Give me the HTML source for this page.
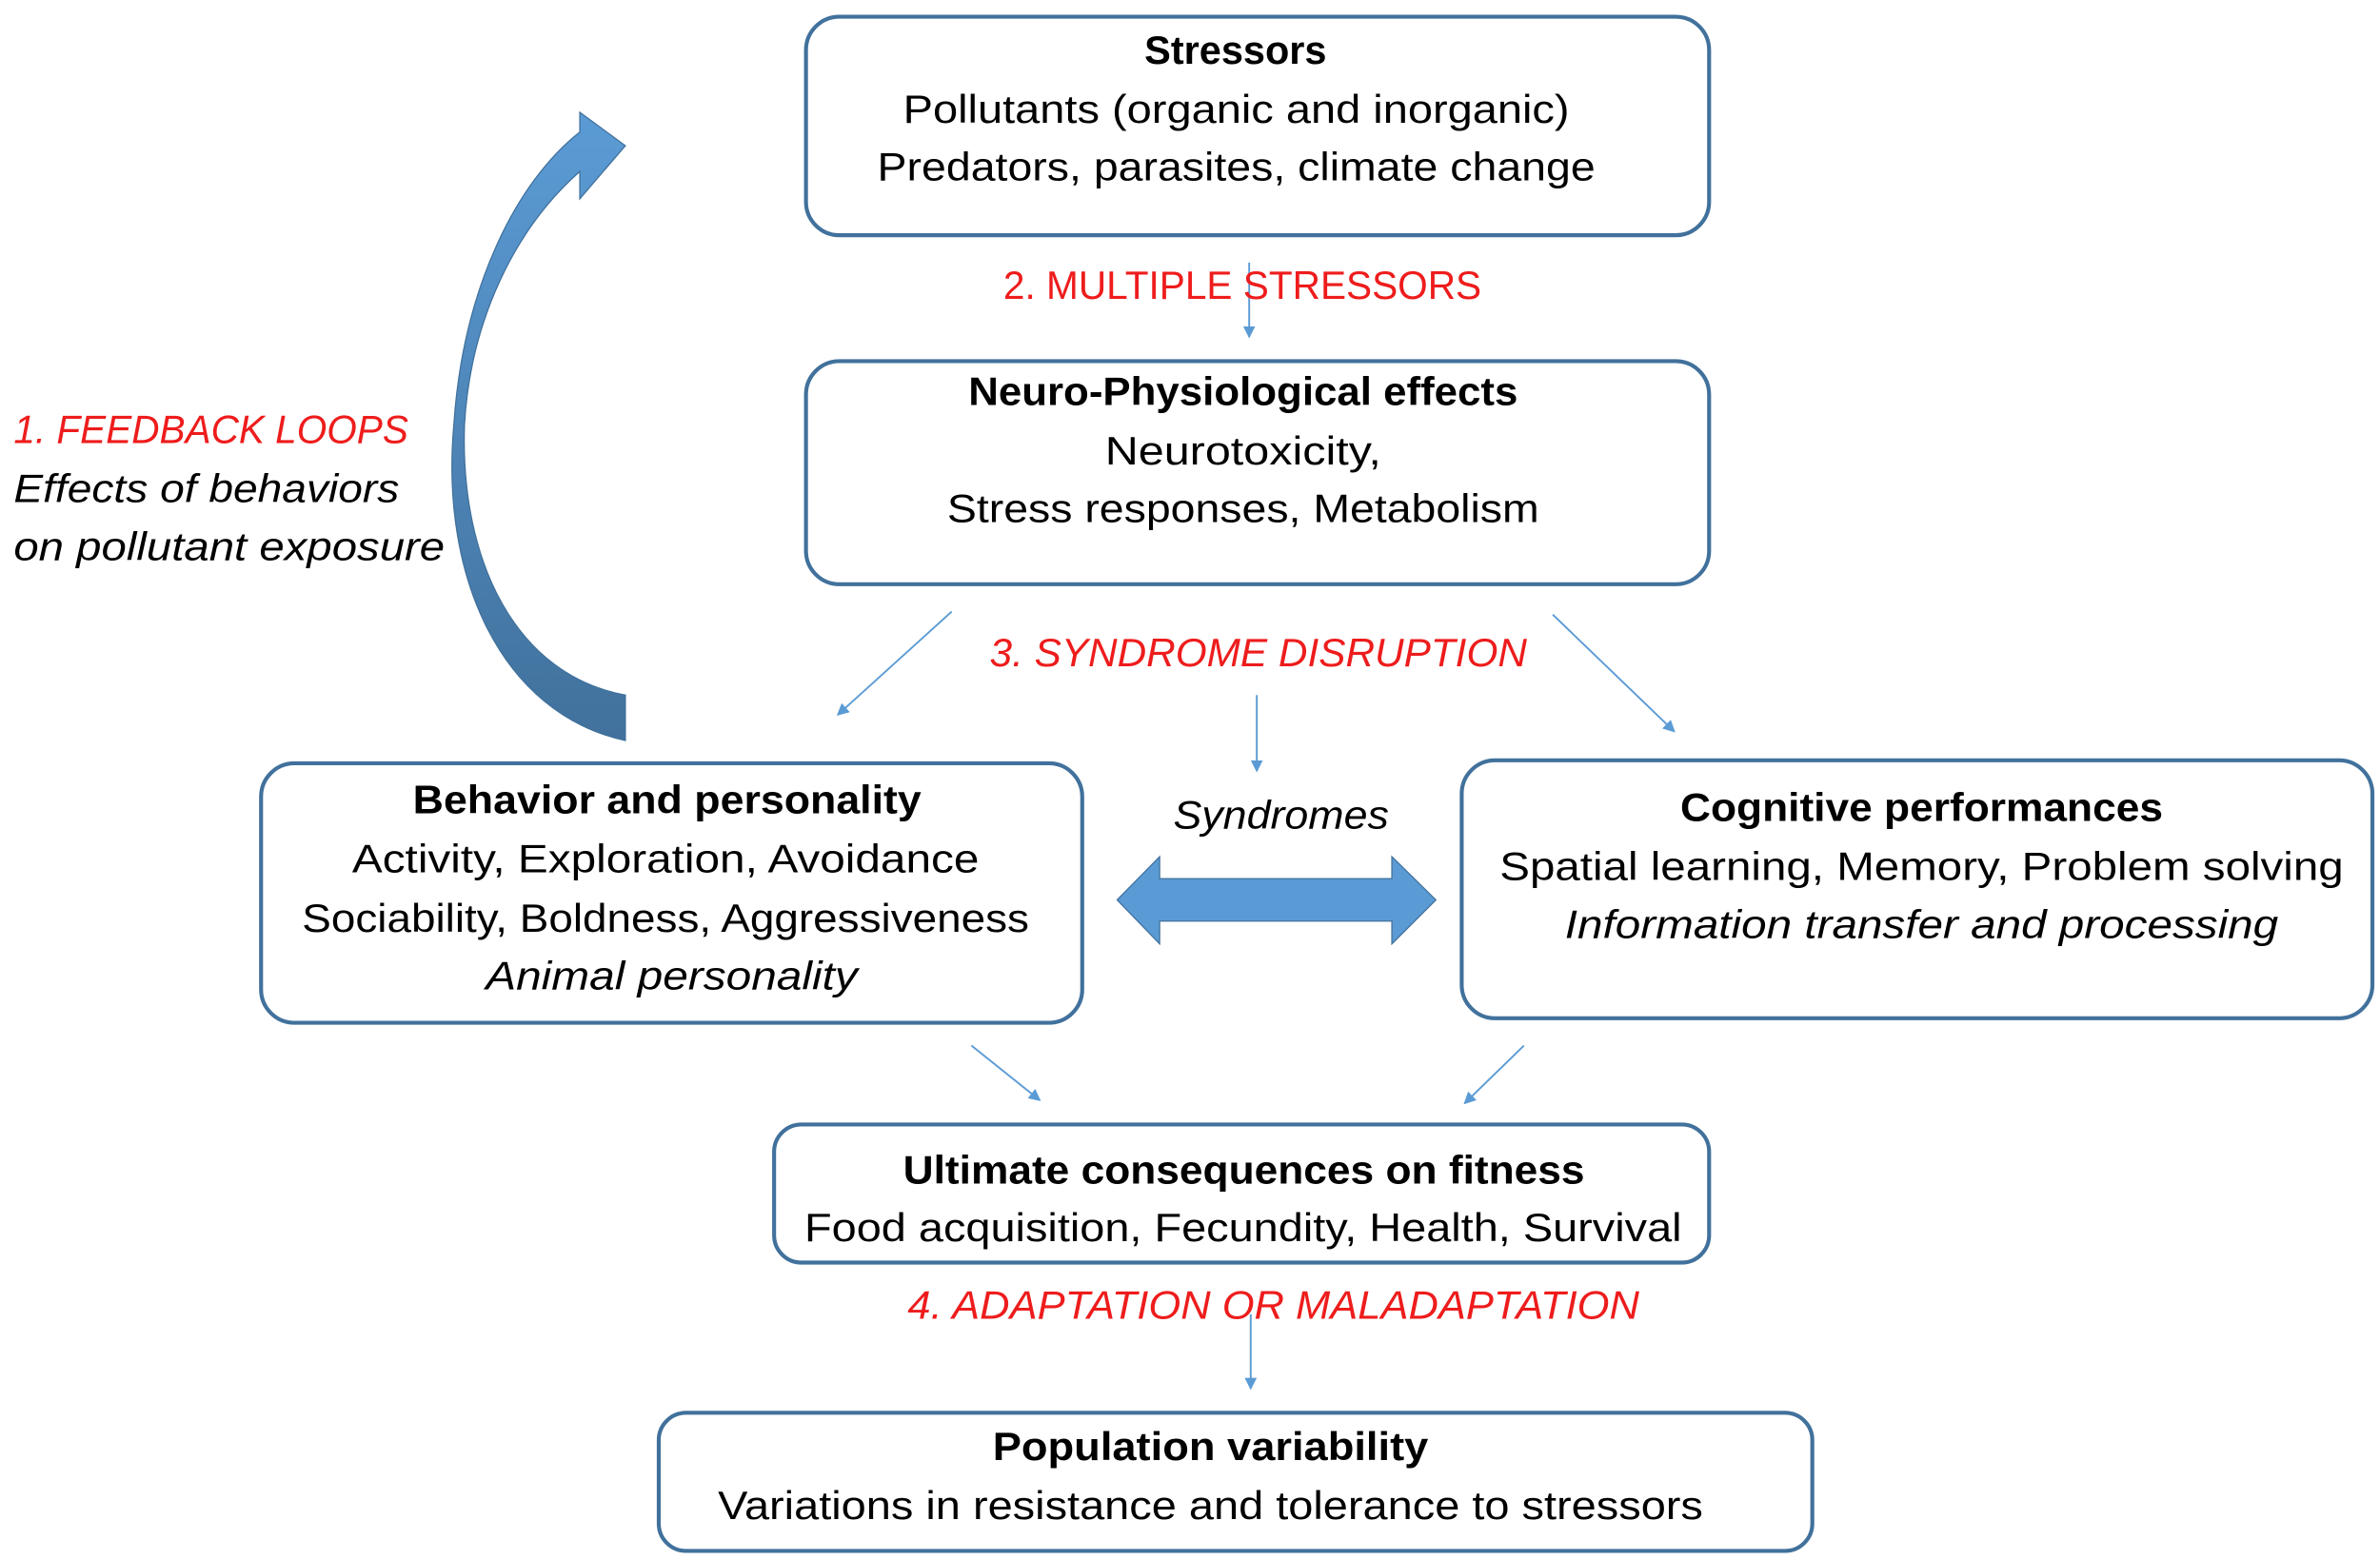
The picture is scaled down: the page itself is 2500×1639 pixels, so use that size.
<!DOCTYPE html>
<html><head><meta charset="utf-8"><style>html,body{margin:0;padding:0;background:#fff}svg{display:block}</style></head>
<body>
<svg width="2500" height="1639" viewBox="0 0 1568 1028" preserveAspectRatio="none" xmlns="http://www.w3.org/2000/svg" font-family="'Liberation Sans', sans-serif" font-size="26">
<defs>
<linearGradient id="g" x1="0" y1="0" x2="0" y2="1"><stop offset="0" stop-color="#5b9bd5"/><stop offset="1" stop-color="#41719c"/></linearGradient>
<marker id="a" markerWidth="8" markerHeight="8" refX="7" refY="4" orient="auto" markerUnits="userSpaceOnUse"><path d="M0,0 L8,4 L0,8 Z" fill="#5b9bd5"/></marker>
</defs>
<g fill="none" stroke="#41719c" stroke-width="2.6">
<rect x="531" y="11" width="595" height="144" rx="22"/>
<rect x="531" y="238" width="595" height="147" rx="22"/>
<rect x="172" y="503" width="541" height="171" rx="22"/>
<rect x="963" y="501" width="600" height="170" rx="22"/>
<rect x="510" y="741" width="616" height="91" rx="18"/>
<rect x="434" y="931" width="760" height="91" rx="18"/>
</g>
<g stroke="#5b9bd5" stroke-width="1.2" marker-end="url(#a)">
<line x1="823" y1="173" x2="823" y2="222"/>
<line x1="627" y1="403" x2="552" y2="471"/>
<line x1="1023" y1="405" x2="1103" y2="482"/>
<line x1="828" y1="458" x2="828" y2="508"/>
<line x1="640" y1="689" x2="685" y2="725"/>
<line x1="1004" y1="689" x2="965" y2="727"/>
<line x1="824" y1="866" x2="824" y2="915"/>
</g>
<path d="M412,488 C330,470 290,380 299,280 C305,190 340,120 382,87 L382,74 L412,96 L382,131 L382,113 C340,150 310,210 306,280 C303,370 340,445 412,458 Z" fill="url(#g)" stroke="#41719c" stroke-width="0.8"/>
<path d="M736,593 L764,564.5 L764,579 L917,579 L917,564.5 L946,593 L917,622 L917,607 L764,607 L764,622 Z" fill="#5b9bd5" stroke="#41719c" stroke-width="0.8"/>
<g fill="#000">
<text x="754" y="42" textLength="120" lengthAdjust="spacingAndGlyphs" font-weight="bold">Stressors</text>
<text x="595" y="81" textLength="439" lengthAdjust="spacingAndGlyphs">Pollutants (organic and inorganic)</text>
<text x="578" y="119" textLength="473" lengthAdjust="spacingAndGlyphs">Predators, parasites, climate change</text>
<text x="638" y="267" textLength="362" lengthAdjust="spacingAndGlyphs" font-weight="bold">Neuro-Physiological effects</text>
<text x="728" y="306" textLength="182" lengthAdjust="spacingAndGlyphs">Neurotoxicity,</text>
<text x="624" y="344" textLength="390" lengthAdjust="spacingAndGlyphs">Stress responses, Metabolism</text>
<text x="9" y="331" textLength="254" lengthAdjust="spacingAndGlyphs" font-style="italic">Effects of behaviors</text>
<text x="9" y="369" textLength="284" lengthAdjust="spacingAndGlyphs" font-style="italic">on pollutant exposure</text>
<text x="272" y="536" textLength="335" lengthAdjust="spacingAndGlyphs" font-weight="bold">Behavior and personality</text>
<text x="232" y="575" textLength="413" lengthAdjust="spacingAndGlyphs">Activity, Exploration, Avoidance</text>
<text x="199" y="614" textLength="479" lengthAdjust="spacingAndGlyphs">Sociability, Boldness, Aggressiveness</text>
<text x="320" y="652" textLength="245" lengthAdjust="spacingAndGlyphs" font-style="italic">Animal personality</text>
<text x="773" y="546" textLength="142" lengthAdjust="spacingAndGlyphs" font-style="italic">Syndromes</text>
<text x="1107" y="541" textLength="318" lengthAdjust="spacingAndGlyphs" font-weight="bold">Cognitive performances</text>
<text x="988" y="580" textLength="556" lengthAdjust="spacingAndGlyphs">Spatial learning, Memory, Problem solving</text>
<text x="1031" y="618" textLength="470" lengthAdjust="spacingAndGlyphs" font-style="italic">Information transfer and processing</text>
<text x="595" y="780" textLength="449" lengthAdjust="spacingAndGlyphs" font-weight="bold">Ultimate consequences on fitness</text>
<text x="530" y="818" textLength="578" lengthAdjust="spacingAndGlyphs">Food acquisition, Fecundity, Health, Survival</text>
<text x="654" y="962" textLength="287" lengthAdjust="spacingAndGlyphs" font-weight="bold">Population variability</text>
<text x="473" y="1001" textLength="649" lengthAdjust="spacingAndGlyphs">Variations in resistance and tolerance to stressors</text>
</g>
<g fill="#ee1c1c">
<text x="661" y="197" textLength="315" lengthAdjust="spacingAndGlyphs">2. MULTIPLE STRESSORS</text>
<text x="652" y="439" textLength="354" lengthAdjust="spacingAndGlyphs" font-style="italic">3. SYNDROME DISRUPTION</text>
<text x="9" y="292" textLength="260" lengthAdjust="spacingAndGlyphs" font-style="italic">1. FEEDBACK LOOPS</text>
<text x="598" y="869" textLength="482" lengthAdjust="spacingAndGlyphs" font-style="italic">4. ADAPTATION OR MALADAPTATION</text>
</g>
</svg>
</body></html>
